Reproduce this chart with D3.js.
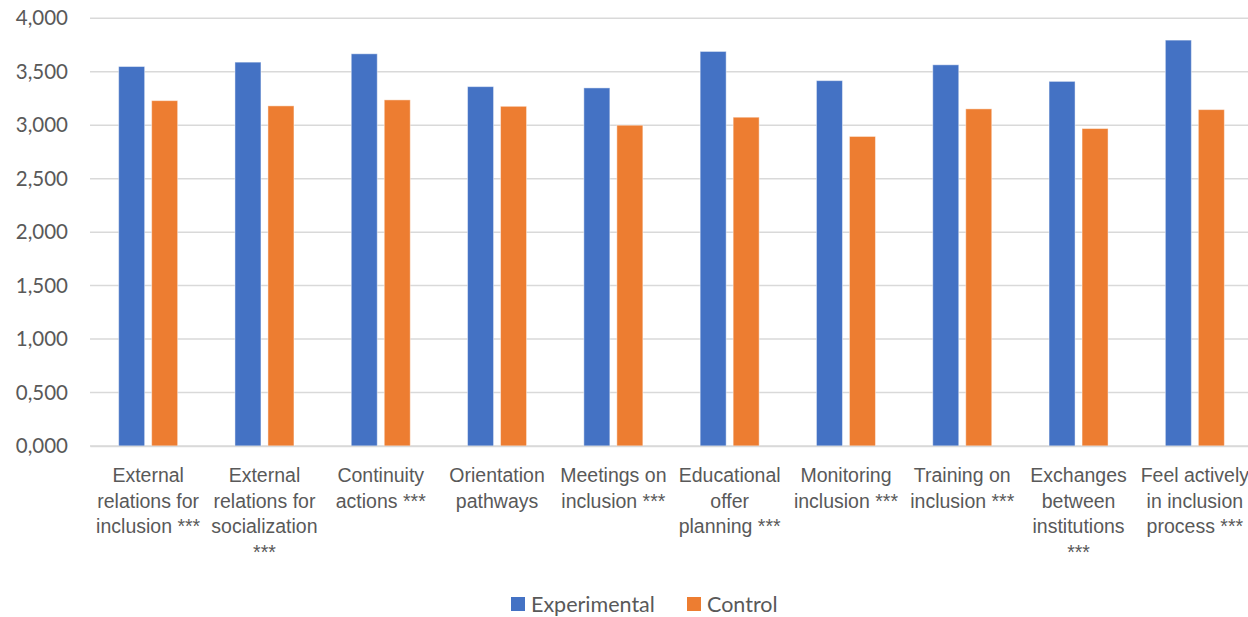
<!DOCTYPE html>
<html>
<head>
<meta charset="utf-8">
<script src="https://cdn.jsdelivr.net/npm/d3@7"></script>
<style>
  html, body { margin: 0; padding: 0; background: #fff; }
  svg { display: block; font-family: Lato, "Open Sans", sans-serif; }
</style>
</head>
<body>
<svg id="chart" width="1248" height="617"></svg>
<script>
// Category labels (line breaks as shown under each group)
const categories = [
  "External\nrelations for\ninclusion ***",
  "External\nrelations for\nsocialization\n***",
  "Continuity\nactions ***",
  "Orientation\npathways",
  "Meetings on\ninclusion ***",
  "Educational\noffer\nplanning ***",
  "Monitoring\ninclusion ***",
  "Training on\ninclusion ***",
  "Exchanges\nbetween\ninstitutions\n***",
  "Feel actively\nin inclusion\nprocess ***"
];
const seriesNames = ["Experimental", "Control"];
const experimental = [3.549, 3.590, 3.668, 3.361, 3.349, 3.690, 3.417, 3.565, 3.410, 3.796];
const control      = [3.230, 3.181, 3.237, 3.177, 3.000, 3.075, 2.895, 3.153, 2.969, 3.146];
const yTicks = [0, 0.5, 1, 1.5, 2, 2.5, 3, 3.5, 4];
const colors = ["#4472C4", "#ED7D31"];

const svg = d3.select("#chart");
const textColor = "#595959";
const gridColor = "#d9d9d9";

const plotLeft = 90, plotRight = 1253, plotTop = 18.3, plotBottom = 446;

const x0 = d3.scaleBand().domain(categories).range([plotLeft, plotRight]);
const bw = x0.bandwidth();
const x1 = d3.scaleBand().domain(seriesNames)
  .range([bw / 2 - 29.5, bw / 2 + 29.5]).paddingInner(7 / 33);
const y = d3.scaleLinear().domain([0, 4]).range([plotBottom, plotTop]);
const color = d3.scaleOrdinal().domain(seriesNames).range(colors);

const locale = d3.formatLocale({ decimal: ",", thousands: ".", grouping: [3], currency: ["", ""] });
const fmt = locale.format(".3f");

// Horizontal gridlines
svg.append("g").selectAll("line").data(yTicks).join("line")
  .attr("x1", plotLeft).attr("x2", plotRight)
  .attr("y1", d => y(d)).attr("y2", d => y(d))
  .attr("stroke", gridColor).attr("stroke-width", 1.5);

// Y axis labels
const yAxis = d3.axisLeft(y).tickValues(yTicks).tickFormat(fmt).tickSize(0).tickPadding(22);
const yg = svg.append("g").attr("transform", `translate(${plotLeft},0)`).call(yAxis);
yg.select(".domain").remove();
yg.selectAll("text").attr("fill", textColor).style("font-size", "20.5px")
  .style("font-family", "Lato, 'Open Sans', sans-serif");

// Bars
const rows = categories.map((c, i) => ({ cat: c, values: [experimental[i], control[i]] }));
const groups = svg.append("g").selectAll("g").data(rows).join("g")
  .attr("transform", d => `translate(${x0(d.cat)},0)`);
groups.selectAll("rect")
  .data(d => d.values.map((v, j) => ({ key: seriesNames[j], value: v })))
  .join("rect")
  .attr("x", d => x1(d.key))
  .attr("width", x1.bandwidth())
  .attr("y", d => y(d.value))
  .attr("height", d => y(0) - y(d.value))
  .attr("fill", d => color(d.key))
  .attr("stroke", "rgba(255,255,255,0.45)")
  .attr("stroke-width", 1);

// X axis with wrapped category labels
const xAxis = d3.axisBottom(x0).tickSize(0).tickFormat("");
const xg = svg.append("g").attr("transform", `translate(0,${plotBottom})`).call(xAxis);
xg.select(".domain").attr("stroke", gridColor).attr("stroke-width", 1.5);
xg.selectAll(".tick").each(function(d) {
  const t = d3.select(this).append("text")
    .attr("text-anchor", "middle")
    .attr("fill", textColor)
    .style("font-size", "19.5px");
  d.split("\n").forEach((line, k) => {
    t.append("tspan").attr("x", 0).attr("y", 36 + k * 25.7).text(line);
  });
});

// Legend
const legend = svg.append("g").attr("transform", "translate(0,604)");
const legendItems = [
  { name: seriesNames[0], x: 511 },
  { name: seriesNames[1], x: 687 }
];
legendItems.forEach(item => {
  legend.append("rect").attr("x", item.x).attr("y", -7).attr("width", 14).attr("height", 14)
    .attr("fill", color(item.name));
  legend.append("text").attr("x", item.x + 20).attr("y", 0).attr("dy", "0.35em")
    .attr("fill", textColor).style("font-size", "21.5px").text(item.name);
});
</script>
</body>
</html>
